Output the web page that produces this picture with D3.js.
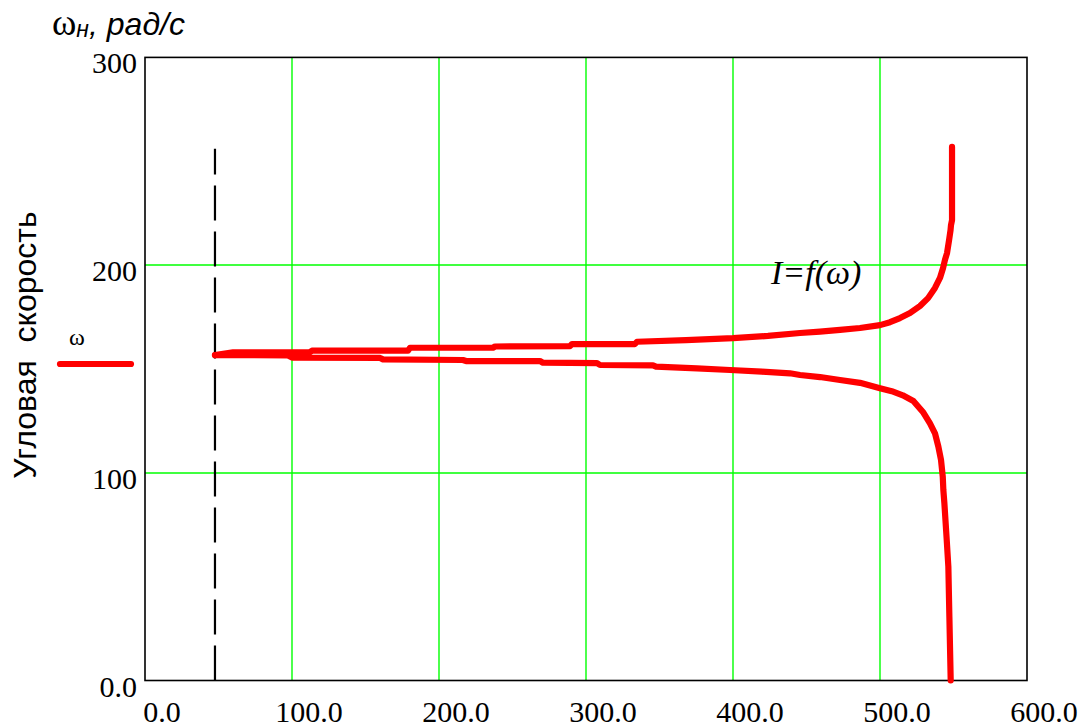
<!DOCTYPE html>
<html>
<head>
<meta charset="utf-8">
<script src="https://cdn.jsdelivr.net/npm/d3@7/dist/d3.min.js"></script>
<style>
  html, body { margin: 0; padding: 0; background: #fff; }
  svg { display: block; }
</style>
</head>
<body>
<svg id="chart" width="1085" height="727"></svg>
<script>
// Current, A (horizontal axis)
const xTicks = [0, 100, 200, 300, 400, 500, 600];
const xTickLabels = ["0.0", "100.0", "200.0", "300.0", "400.0", "500.0", "600.0"];
// Angular speed, rad/s (vertical axis)
const yTicks = [0, 100, 200, 300];
const yTickLabels = ["0.0", "100", "200", "300"];
const gridX = [100, 200, 300, 400, 500];
const gridY = [100, 200];

// Upper branch of I = f(ω): current vs speed
const upperI = [47.6, 59.9, 112.2, 113.6, 178.9, 180.3, 236.7, 238.1, 289.1, 290.5, 333.3, 334.7, 368.0, 400.0, 423.8, 445.6, 459.2, 472.8, 486.4, 500.0, 506.8, 513.6, 520.4, 527.2, 532.7, 537.4, 540.8, 542.9, 544.2, 545.6, 547.0, 548.0, 548.3, 549.0, 549.0];
const upperW = [156.7, 158.0, 158.1, 158.8, 158.8, 160.2, 160.2, 160.8, 161.0, 162.0, 162.0, 163.1, 163.9, 164.8, 165.9, 167.3, 168.0, 168.8, 169.7, 171.1, 172.5, 174.5, 176.9, 180.3, 184.1, 189.0, 193.8, 198.6, 202.5, 205.8, 212.1, 216.9, 219.3, 221.7, 256.9];

// Lower branch of I = f(ω)
const lowerI = [47.6, 97.3, 100.0, 159.9, 161.9, 216.3, 218.4, 268.7, 270.7, 307.5, 309.5, 345.6, 347.6, 375.5, 398.0, 419.7, 438.8, 445.6, 459.2, 472.8, 486.4, 500.0, 508.0, 515.5, 522.7, 529.5, 534.0, 537.4, 539.7, 541.5, 542.7, 543.1, 543.8, 545.4, 546.5, 547.2, 548.1];
const lowerW = [156.7, 156.5, 155.5, 155.3, 154.6, 154.3, 153.8, 153.8, 153.0, 152.8, 151.9, 151.7, 151.1, 150.3, 149.5, 148.7, 147.9, 147.1, 146.1, 144.7, 143.3, 140.7, 139.3, 137.3, 134.6, 129.0, 123.8, 119.0, 112.6, 106.2, 98.1, 91.7, 85.3, 67.6, 54.8, 30.7, 0.0];

// Vertical marker (dashed) at the starting current
const markerI = [47.6, 47.6];
const markerW = [0, 256];

const svg = d3.select("#chart");
const plotLeft = 145, plotRight = 1027, plotTop = 57.4, plotBottom = 680.5;

const x = d3.scaleLinear().domain([0, 600]).range([plotLeft, plotRight]);
const y = d3.scaleLinear().domain([0, 300]).range([plotBottom, plotTop]);

// grid
svg.append("g").selectAll("line").data(gridX).join("line")
  .attr("x1", d => Math.round(x(d))).attr("x2", d => Math.round(x(d)))
  .attr("y1", plotTop).attr("y2", plotBottom)
  .attr("stroke", "#00ff00").attr("stroke-width", 1.4);
svg.append("g").selectAll("line").data(gridY).join("line")
  .attr("y1", d => Math.round(y(d))).attr("y2", d => Math.round(y(d)))
  .attr("x1", plotLeft).attr("x2", plotRight)
  .attr("stroke", "#00ff00").attr("stroke-width", 1.4);

// frame
svg.append("rect")
  .attr("x", plotLeft).attr("y", plotTop)
  .attr("width", plotRight - plotLeft).attr("height", plotBottom - plotTop)
  .attr("fill", "none").attr("stroke", "#000").attr("stroke-width", 1.6);

// tick labels
const serif = "Liberation Serif, Times New Roman, serif";
const sans = "Liberation Sans, Arial, sans-serif";
svg.append("g").selectAll("text").data(xTicks).join("text")
  .attr("x", d => x(d) + 17).attr("y", 722)
  .attr("text-anchor", "middle")
  .style("font-family", serif).style("font-size", "30px")
  .text((d, i) => xTickLabels[i]);
svg.append("g").selectAll("text").data(yTicks).join("text")
  .attr("x", plotLeft - 8).attr("y", d => y(d) + 16)
  .attr("text-anchor", "end")
  .style("font-family", serif).style("font-size", "30px")
  .text((d, i) => yTickLabels[i]);

// dashed marker line (drawn bottom-up)
const line = d3.line().x(d => x(d[0])).y(d => y(d[1]));
svg.append("path")
  .datum(d3.zip(markerI, markerW))
  .attr("d", line)
  .attr("fill", "none").attr("stroke", "#000").attr("stroke-width", 2.2)
  .attr("stroke-dasharray", "35,11");

// curves
[[upperI, upperW], [lowerI, lowerW]].forEach(([xs, ys]) => {
  svg.append("path")
    .datum(d3.zip(xs, ys))
    .attr("d", line)
    .attr("fill", "none").attr("stroke", "#ff0000")
    .attr("stroke-width", 6.2)
    .attr("stroke-linejoin", "round").attr("stroke-linecap", "round");
});

// annotation
svg.append("text")
  .attr("x", 771).attr("y", 284)
  .style("font-family", serif).style("font-style", "italic").style("font-size", "34px")
  .text("I=f(ω)");

// axis title (top-left)
const title = svg.append("text").attr("x", 52).attr("y", 35);
title.append("tspan").style("font-family", serif).style("font-size", "37px").text("ω");
title.append("tspan").style("font-family", sans)
  .style("font-style", "italic").style("font-size", "23px").attr("dy", 2).text("н");
title.append("tspan").style("font-family", sans)
  .style("font-style", "italic").style("font-size", "32px").attr("dy", -2).text(", рад/с");

// rotated axis label
svg.append("text")
  .attr("transform", "translate(36,345) rotate(-90)")
  .attr("text-anchor", "middle")
  .style("font-family", sans).style("font-size", "32px")
  .style("white-space", "pre")
  .text("Угловая  скорость");

// legend
svg.append("line")
  .attr("x1", 60).attr("x2", 131).attr("y1", 364).attr("y2", 364)
  .attr("stroke", "#ff0000").attr("stroke-width", 6.2).attr("stroke-linecap", "round");
svg.append("text")
  .attr("x", 77).attr("y", 345).attr("text-anchor", "middle")
  .style("font-family", serif).style("font-size", "24px")
  .text("ω");
</script>
</body>
</html>
